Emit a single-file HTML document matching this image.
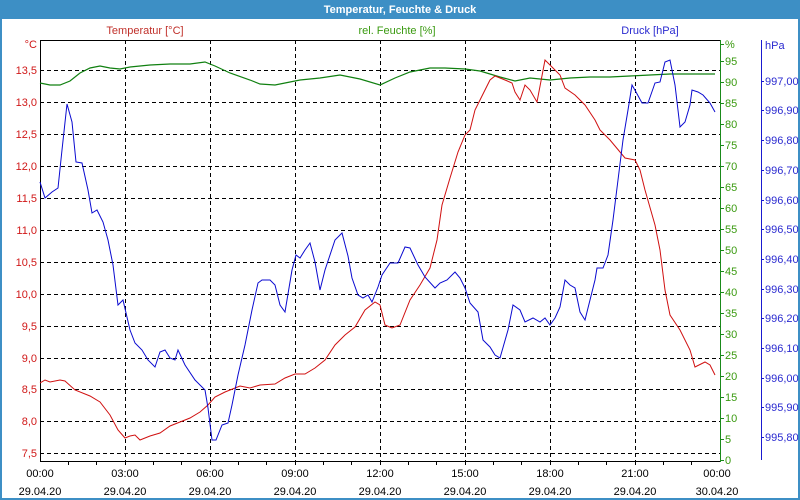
<!DOCTYPE html>
<html><head><meta charset="utf-8"><style>
html,body{margin:0;padding:0;background:#fff;}
svg{display:block;font-family:"Liberation Sans","DejaVu Sans",sans-serif;font-size:11px;}
</style></head><body>
<svg width="800" height="500" xmlns="http://www.w3.org/2000/svg">
<rect x="0" y="0" width="800" height="500" fill="#fff"/>
<rect x="0.5" y="0.5" width="799" height="499" fill="none" stroke="#3d8fc5"/>
<rect x="1.5" y="1.5" width="797" height="497" fill="none" stroke="#3d8fc5"/>
<rect x="0" y="0" width="800" height="19" fill="#3d8fc5"/>
<text x="400" y="13" text-anchor="middle" fill="#fff" font-weight="bold" font-size="11">Temperatur, Feuchte &amp; Druck</text>

<text x="145" y="34" text-anchor="middle" fill="#c0302a">Temperatur [°C]</text>
<text x="397" y="34" text-anchor="middle" fill="#3a9a10">rel. Feuchte [%]</text>
<text x="650" y="34" text-anchor="middle" fill="#2a2ad0">Druck [hPa]</text>

<g stroke="#000" stroke-dasharray="4,3" stroke-width="1">
<line x1="40" y1="70.5" x2="720" y2="70.5"/><line x1="40" y1="102.5" x2="720" y2="102.5"/>
<line x1="40" y1="134.5" x2="720" y2="134.5"/><line x1="40" y1="166.5" x2="720" y2="166.5"/>
<line x1="40" y1="198.5" x2="720" y2="198.5"/><line x1="40" y1="230.5" x2="720" y2="230.5"/>
<line x1="40" y1="262.5" x2="720" y2="262.5"/><line x1="40" y1="294.5" x2="720" y2="294.5"/>
<line x1="40" y1="326.5" x2="720" y2="326.5"/><line x1="40" y1="358.5" x2="720" y2="358.5"/>
<line x1="40" y1="389.5" x2="720" y2="389.5"/><line x1="40" y1="421.5" x2="720" y2="421.5"/>
<line x1="40" y1="453.5" x2="720" y2="453.5"/>
<line x1="125.5" y1="40" x2="125.5" y2="461"/><line x1="210.5" y1="40" x2="210.5" y2="461"/>
<line x1="295.5" y1="40" x2="295.5" y2="461"/><line x1="380.5" y1="40" x2="380.5" y2="461"/>
<line x1="465.5" y1="40" x2="465.5" y2="461"/><line x1="550.5" y1="40" x2="550.5" y2="461"/>
<line x1="635.5" y1="40" x2="635.5" y2="461"/>
</g>
<line x1="40" y1="40.5" x2="720" y2="40.5" stroke="#000"/>
<line x1="40.5" y1="40" x2="40.5" y2="462" stroke="#000"/>
<line x1="40" y1="461.5" x2="720" y2="461.5" stroke="#000"/>
<line x1="720.5" y1="40" x2="720.5" y2="462" stroke="#1a8a1a"/>
<line x1="761.5" y1="40" x2="761.5" y2="460" stroke="#1a1ad0"/>
<g stroke="#000">
<line x1="68.5" y1="461" x2="68.5" y2="465"/><line x1="96.5" y1="461" x2="96.5" y2="465"/>
<line x1="125.5" y1="461" x2="125.5" y2="465"/><line x1="153.5" y1="461" x2="153.5" y2="465"/>
<line x1="181.5" y1="461" x2="181.5" y2="465"/><line x1="210.5" y1="461" x2="210.5" y2="465"/>
<line x1="238.5" y1="461" x2="238.5" y2="465"/><line x1="266.5" y1="461" x2="266.5" y2="465"/>
<line x1="295.5" y1="461" x2="295.5" y2="465"/><line x1="323.5" y1="461" x2="323.5" y2="465"/>
<line x1="351.5" y1="461" x2="351.5" y2="465"/><line x1="380.5" y1="461" x2="380.5" y2="465"/>
<line x1="408.5" y1="461" x2="408.5" y2="465"/><line x1="436.5" y1="461" x2="436.5" y2="465"/>
<line x1="465.5" y1="461" x2="465.5" y2="465"/><line x1="493.5" y1="461" x2="493.5" y2="465"/>
<line x1="521.5" y1="461" x2="521.5" y2="465"/><line x1="550.5" y1="461" x2="550.5" y2="465"/>
<line x1="578.5" y1="461" x2="578.5" y2="465"/><line x1="606.5" y1="461" x2="606.5" y2="465"/>
<line x1="635.5" y1="461" x2="635.5" y2="465"/><line x1="663.5" y1="461" x2="663.5" y2="465"/>
<line x1="691.5" y1="461" x2="691.5" y2="465"/>
</g>

<g fill="#d01818" text-anchor="end">
<text x="37" y="48">°C</text>
<text x="37" y="74">13,5</text><text x="37" y="106">13,0</text><text x="37" y="138">12,5</text>
<text x="37" y="170">12,0</text><text x="37" y="202">11,5</text><text x="37" y="234">11,0</text>
<text x="37" y="266">10,5</text><text x="37" y="298">10,0</text><text x="37" y="330">9,5</text>
<text x="37" y="362">9,0</text><text x="37" y="393">8,5</text><text x="37" y="425">8,0</text>
<text x="37" y="457">7,5</text>
</g>
<g stroke="#1a8a1a">
<line x1="720" y1="44.5" x2="724" y2="44.5"/><line x1="720" y1="61.5" x2="724" y2="61.5"/><line x1="720" y1="82.5" x2="724" y2="82.5"/>
<line x1="720" y1="103.5" x2="724" y2="103.5"/><line x1="720" y1="124.5" x2="724" y2="124.5"/><line x1="720" y1="145.5" x2="724" y2="145.5"/>
<line x1="720" y1="166.5" x2="724" y2="166.5"/><line x1="720" y1="187.5" x2="724" y2="187.5"/><line x1="720" y1="208.5" x2="724" y2="208.5"/>
<line x1="720" y1="229.5" x2="724" y2="229.5"/><line x1="720" y1="250.5" x2="724" y2="250.5"/><line x1="720" y1="271.5" x2="724" y2="271.5"/>
<line x1="720" y1="292.5" x2="724" y2="292.5"/><line x1="720" y1="313.5" x2="724" y2="313.5"/><line x1="720" y1="334.5" x2="724" y2="334.5"/>
<line x1="720" y1="355.5" x2="724" y2="355.5"/><line x1="720" y1="376.5" x2="724" y2="376.5"/><line x1="720" y1="397.5" x2="724" y2="397.5"/>
<line x1="720" y1="418.5" x2="724" y2="418.5"/><line x1="720" y1="439.5" x2="724" y2="439.5"/><line x1="720" y1="460.5" x2="724" y2="460.5"/>
</g>
<g fill="#3a9a10">
<text x="725" y="48">%</text>
<text x="725" y="65">95</text><text x="725" y="86">90</text><text x="725" y="107">85</text>
<text x="725" y="128">80</text><text x="725" y="149">75</text><text x="725" y="170">70</text>
<text x="725" y="191">65</text><text x="725" y="212">60</text><text x="725" y="233">55</text>
<text x="725" y="254">50</text><text x="725" y="275">45</text><text x="725" y="296">40</text>
<text x="725" y="317">35</text><text x="725" y="338">30</text><text x="725" y="359">25</text>
<text x="725" y="380">20</text><text x="725" y="401">15</text><text x="725" y="422">10</text>
<text x="725" y="443">5</text><text x="725" y="464">0</text>
</g>
<g stroke="#1a1ad0">
<line x1="761" y1="81.5" x2="764" y2="81.5"/><line x1="761" y1="110.5" x2="764" y2="110.5"/><line x1="761" y1="140.5" x2="764" y2="140.5"/>
<line x1="761" y1="170.5" x2="764" y2="170.5"/><line x1="761" y1="200.5" x2="764" y2="200.5"/><line x1="761" y1="229.5" x2="764" y2="229.5"/>
<line x1="761" y1="259.5" x2="764" y2="259.5"/><line x1="761" y1="289.5" x2="764" y2="289.5"/><line x1="761" y1="318.5" x2="764" y2="318.5"/>
<line x1="761" y1="348.5" x2="764" y2="348.5"/><line x1="761" y1="378.5" x2="764" y2="378.5"/><line x1="761" y1="407.5" x2="764" y2="407.5"/>
<line x1="761" y1="437.5" x2="764" y2="437.5"/>
</g>
<g fill="#2a2ad0">
<text x="765" y="49">hPa</text>
<text x="765" y="85">997,00</text><text x="765" y="114">996,90</text><text x="765" y="144">996,80</text>
<text x="765" y="174">996,70</text><text x="765" y="204">996,60</text><text x="765" y="233">996,50</text>
<text x="765" y="263">996,40</text><text x="765" y="293">996,30</text><text x="765" y="322">996,20</text>
<text x="765" y="352">996,10</text><text x="765" y="382">996,00</text><text x="765" y="411">995,90</text>
<text x="765" y="441">995,80</text>
</g>
<g fill="#000" text-anchor="middle">
<text x="40" y="477">00:00</text><text x="40" y="495">29.04.20</text>
<text x="125" y="477">03:00</text><text x="125" y="495">29.04.20</text>
<text x="210" y="477">06:00</text><text x="210" y="495">29.04.20</text>
<text x="295" y="477">09:00</text><text x="295" y="495">29.04.20</text>
<text x="380" y="477">12:00</text><text x="380" y="495">29.04.20</text>
<text x="465" y="477">15:00</text><text x="465" y="495">29.04.20</text>
<text x="550" y="477">18:00</text><text x="550" y="495">29.04.20</text>
<text x="635" y="477">21:00</text><text x="635" y="495">29.04.20</text>
<text x="717" y="477">00:00</text><text x="717" y="495">30.04.20</text>
</g>

<polyline fill="none" stroke="#108010" stroke-width="1.2" points="40,83 50,85 60,85 70,81 80,73 90,68 100,66 110,68 120,69 130,67 140,66 150,65 170,64 190,64 205,62 215,66 230,73 250,80 260,84 275,85 290,82 300,80 320,78 340,75 360,79 380,85 395,78 410,72 430,68 445,68 465,69 480,71 500,77 515,81 530,78 550,80 570,78 590,77 610,77 630,76 650,75 670,74 690,74 715,74"/>
<polyline fill="none" stroke="#d01010" stroke-width="1" points="40,383 45,380 50,382 60,380 65,381 75,390 90,396 100,402 110,415 118,430 125,438 130,436 135,435 140,440 150,436 160,433 170,426 180,422 190,418 200,412 208,405 215,397 225,392 240,386 250,388 260,385 275,384 285,378 295,374 305,374 315,368 325,360 335,345 345,335 355,327 365,310 375,302 380,305 385,325 392,328 400,325 410,300 420,285 430,268 437,240 442,205 450,178 458,152 465,135 470,130 475,110 480,100 490,80 495,76 505,80 512,83 515,92 520,100 525,85 530,90 537,102 545,60 553,68 560,75 565,88 575,95 585,105 595,120 600,130 610,140 620,152 625,158 635,160 640,170 645,190 655,225 660,250 665,290 670,315 680,330 690,350 695,367 705,362 710,365 715,375"/>
<polyline fill="none" stroke="#0a0ad0" stroke-width="1" points="40,182 45,198 52,192 58,188 62,150 67,104 72,122 76,162 82,163 88,190 92,213 97,210 103,222 108,240 113,265 118,305 123,300 130,330 135,343 142,350 148,360 155,367 160,352 165,350 170,358 175,360 178,350 185,365 195,380 205,390 208,408 212,440 216,440 222,425 228,423 232,405 238,375 245,345 252,310 258,283 262,280 270,280 275,285 280,305 285,312 292,270 296,255 300,258 305,250 310,243 315,262 320,290 325,270 335,240 342,233 348,256 352,278 358,295 363,298 368,295 372,302 378,287 382,275 390,263 398,263 405,247 410,248 418,265 425,277 435,288 440,283 447,280 455,272 460,278 465,288 470,303 478,312 483,340 490,347 495,355 500,358 508,330 513,305 520,310 525,322 533,318 540,322 545,318 550,325 555,318 560,307 565,280 570,285 575,288 580,312 585,320 590,300 595,280 597,268 603,268 608,255 613,220 618,180 623,140 628,110 632,85 636,92 642,103 648,103 655,83 660,82 665,62 670,60 675,85 680,127 685,122 690,105 692,90 698,92 703,95 710,103 715,112"/>
</svg>
</body></html>
